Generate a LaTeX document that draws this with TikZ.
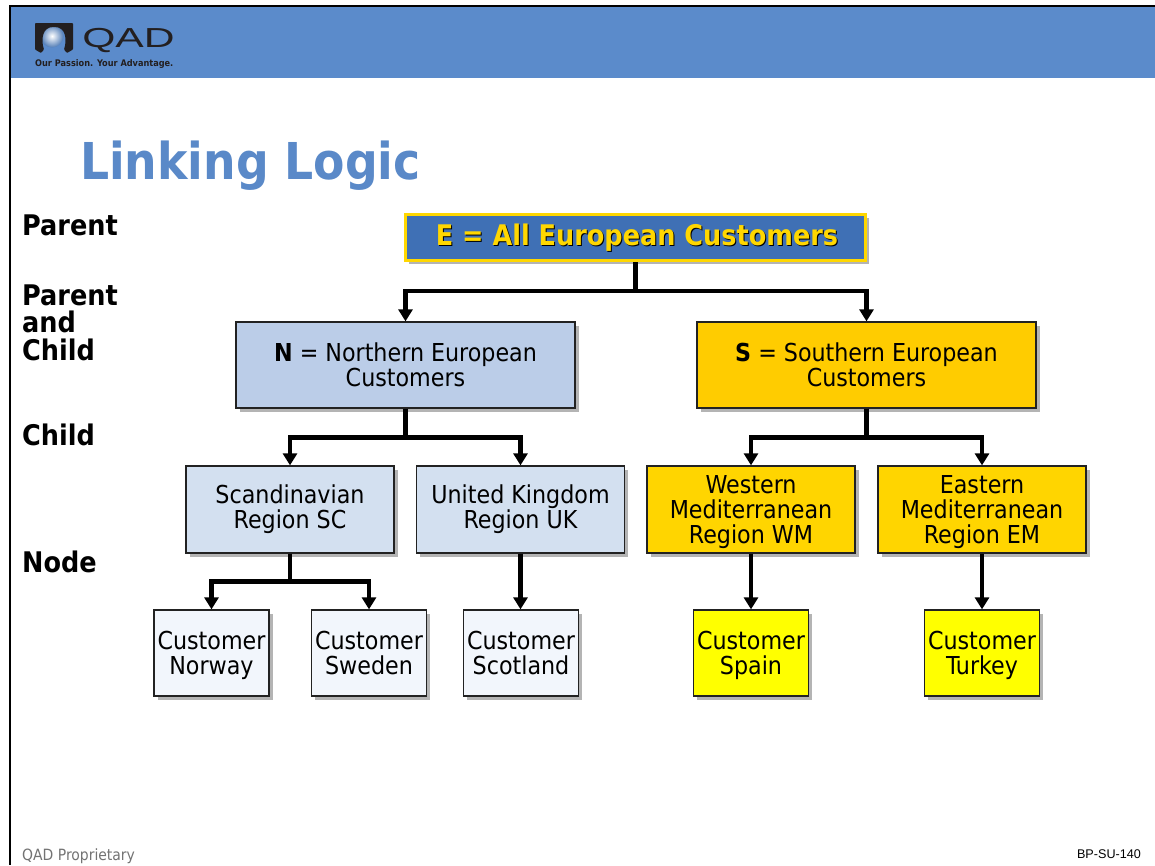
\documentclass[tikz,border=0pt]{standalone}
\usepackage{fontspec}
\setmainfont{DejaVu Sans Condensed}
\newfontfamily\arialf{Liberation Sans}
\usetikzlibrary{shadows,arrows.meta}
\newcommand\topstrut{\rule{0pt}{24pt}}
\definecolor{hdr}{HTML}{5B8BCB}
\definecolor{ttl}{HTML}{5A89C8}
\definecolor{ebl}{HTML}{3F70B5}
\definecolor{gold}{HTML}{FFD700}
\definecolor{nbl}{HTML}{BBCDE8}
\definecolor{rbl}{HTML}{D3E0F0}
\definecolor{cbl}{HTML}{F2F6FC}
\definecolor{sor}{HTML}{FFCC00}
\definecolor{ror}{HTML}{FFD500}
\definecolor{yel}{HTML}{FFFF00}
\definecolor{shd}{HTML}{B4B4B4}
\definecolor{edg}{HTML}{222222}
\definecolor{dk}{HTML}{231F20}
\tikzset{
  x=1pt,y=-1pt,
  boxbase/.style={draw=edg,line width=1.3pt,inner sep=0pt,align=center,text=black,
    font=\fontsize{24.7}{25}\selectfont,
    execute at end node={\vphantom{y}},
    drop shadow={shadow xshift=3.5pt,shadow yshift=-3.5pt,fill=shd,opacity=1}},
  topbox/.style={boxbase,minimum width=339pt,minimum height=86pt},
  regbox/.style={boxbase,minimum width=208pt,minimum height=87pt},
  custbox/.style={boxbase,minimum width=115pt,minimum height=86pt},
  side/.style={anchor=base west,inner sep=0pt,font=\fontsize{28.4}{28}\selectfont\bfseries,text=black},
  conn/.style={draw=black,line width=4.5pt,-{Triangle[length=12pt,width=14pt]}}
}
\begin{document}
\begin{tikzpicture}
\useasboundingbox (0,0) rectangle (1155,865);
\fill[white] (0,0) rectangle (1155,865);
% frame and header
\fill[black] (9,5) rectangle (1155,865);
\fill[white] (11,7) rectangle (1155,865);
\fill[hdr] (11,7) rectangle (1155,78);
% logo
\shade[inner color=white,outer color=hdr!90!black] (52,36) circle (11.5);
\fill[dk,rounded corners=0.8pt] (35,23) -- (73,23) -- (73,49.5) -- (67,53) -- (64,49.5)
  .. controls (67,40) and (66,27) .. (54,27)
  .. controls (42,27) and (41,40) .. (44,49.5) -- (41,53) -- (35,49.5) -- cycle;
\node[anchor=base west,inner sep=0pt,text=dk,font=\fontsize{27.5}{27}\selectfont\arialf,xscale=1.55] (qad) at (82,47.5) {QAD};
\node[anchor=base west,inner sep=0pt,text=dk,font=\fontsize{9.1}{10}\selectfont\bfseries] (tag) at (35,66) {Our Passion. Your Advantage.};
% title
\node[anchor=base west,inner sep=0pt,text=ttl,font=\fontsize{50.8}{50}\selectfont\bfseries] (title) at (80,179) {Linking Logic};
% side labels
\node[side] (l1) at (22,235) {Parent};
\node[side] (l2) at (22,305) {Parent};
\node[side] (l3) at (22,332.5) {and};
\node[side] (l4) at (22,360) {Child};
\node[side] (l5) at (22,445.5) {Child};
\node[side] (l6) at (22,572) {Node};
% top box
\node[boxbase,draw=gold,line width=3.4pt,fill=ebl,minimum width=460pt,minimum height=46pt] (E) at (635.5,237.5) {};
\node[anchor=base,inner sep=0pt,text=black,font=\fontsize{28.4}{28}\selectfont\bfseries] (Es) at (638,246) {E = All European Customers};
\node[anchor=base,inner sep=0pt,text=gold,font=\fontsize{28.4}{28}\selectfont\bfseries] (Et) at (637,245) {E = All European Customers};
% level 2
\node[topbox,fill=nbl] (N) at (405.5,365) {\topstrut\textbf{N} = Northern European\\Customers};
\node[topbox,fill=sor] (S) at (866.5,365) {\topstrut\textbf{S} = Southern European\\Customers};
% level 3
\node[regbox,fill=rbl] (SC) at (290,509.5) {Scandinavian\\Region SC};
\node[regbox,fill=rbl] (UK) at (520.5,509.5) {United Kingdom\\Region UK};
\node[regbox,fill=ror] (WM) at (751,509.5) {\topstrut Western\\Mediterranean\\Region WM};
\node[regbox,fill=ror] (EM) at (982,509.5) {\topstrut Eastern\\Mediterranean\\Region EM};
% level 4
\node[custbox,fill=cbl] (CN) at (211.5,653) {\topstrut Customer\\Norway};
\node[custbox,fill=cbl] (CW) at (369,653) {\topstrut Customer\\Sweden};
\node[custbox,fill=cbl] (CS) at (521,653) {\topstrut Customer\\Scotland};
\node[custbox,fill=yel] (CP) at (751,653) {\topstrut Customer\\Spain};
\node[custbox,fill=yel] (CT) at (982,653) {\topstrut Customer\\Turkey};
% connectors
\draw[conn] (E.south) -- ++(0,29) -| (N.north);
\draw[conn] (E.south) -- ++(0,29) -| (S.north);
\draw[conn] (N.south) -- ++(0,29) -| (SC.north);
\draw[conn] (N.south) -- ++(0,29) -| (UK.north);
\draw[conn] (S.south) -- ++(0,29) -| (WM.north);
\draw[conn] (S.south) -- ++(0,29) -| (EM.north);
\draw[conn] (SC.south) -- ++(0,28) -| (CN.north);
\draw[conn] (SC.south) -- ++(0,28) -| (CW.north);
\draw[conn] (UK.south) -- (UK.south |- CS.north);
\draw[conn] (WM.south) -- (CP.north);
\draw[conn] (EM.south) -- (CT.north);
% footer
\node[anchor=base west,inner sep=0pt,text=black!55,font=\fontsize{15.5}{15}\selectfont] (f1) at (22,860) {QAD Proprietary};
\node[anchor=base east,inner sep=0pt,text=black,font=\fontsize{12.6}{12}\selectfont\arialf] (f2) at (1141,858) {BP-SU-140};
\end{tikzpicture}
\end{document}
